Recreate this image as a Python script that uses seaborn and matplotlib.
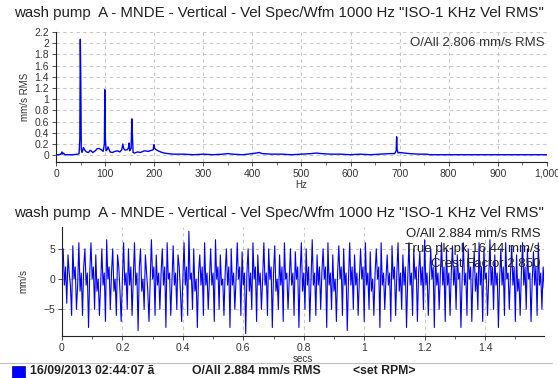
import numpy as np
import pandas as pd
import seaborn as sns
import matplotlib.pyplot as plt
from matplotlib.patches import Rectangle
from matplotlib.ticker import AutoMinorLocator

title = 'wash pump  A - MNDE - Vertical - Vel Spec/Wfm 1000 Hz "ISO-1 KHz Vel RMS"'

# spectrum (Hz, mm/s RMS)
spec_hz = [0, 5, 10, 12, 13, 15, 18, 25, 35, 44, 47, 48.5, 49.5, 50.5, 51.5, 53,
           56, 58, 62, 66, 70, 75, 80, 84, 88, 92, 96, 98.5, 99.5, 100.5, 102,
           104, 106, 110, 115, 120, 125, 130, 134, 136, 138, 141, 145, 148, 149,
           150, 151, 153, 154.5, 155.5, 157, 160, 166, 172, 180, 188, 195, 198,
           199.5, 201, 204, 208, 213, 220, 228, 240, 260, 280, 300, 320, 340, 350,
           360, 380, 400, 408, 414, 420, 440, 460, 480, 500, 520, 530, 540, 560,
           580, 600, 620, 640, 660, 680, 690, 693, 694, 695, 697, 700, 710, 720,
           740, 755, 762, 780, 850, 920, 1000]
spec_amp = [0.01, 0.01, 0.02, 0.06, 0.02, 0.04, 0.01, 0.01, 0.01, 0.02, 0.03, 0.3, 2.07, 1.3, 0.1, 0.05,
            0.14, 0.1, 0.06, 0.05, 0.09, 0.05, 0.08, 0.12, 0.12, 0.1, 0.07, 0.2, 1.17, 0.3, 0.08,
            0.1, 0.15, 0.06, 0.05, 0.07, 0.08, 0.06, 0.1, 0.2, 0.12, 0.09, 0.1, 0.14, 0.22,
            0.08, 0.1, 0.12, 0.65, 0.4, 0.05, 0.04, 0.06, 0.05, 0.08, 0.07, 0.09, 0.1,
            0.19, 0.12, 0.1, 0.08, 0.06, 0.04, 0.03, 0.02, 0.02, 0.01, 0.02, 0.01, 0.02, 0.03,
            0.02, 0.01, 0.03, 0.04, 0.05, 0.03, 0.02, 0.02, 0.01, 0.02, 0.03, 0.04, 0.03, 0.02,
            0.02, 0.01, 0.02, 0.01, 0.02, 0.03, 0.03, 0.08, 0.33, 0.1, 0.04, 0.05, 0.04, 0.03,
            0.02, 0.02, 0.01, 0.01, 0.01, 0.01, 0.01]

# waveform, 4 ms steps (mm/s)
wave_step = 0.004
wave_vals = [
    3, 5, -1, 2, -4, 4, 1, -1, -6, 5.5, 0, 2, -5, -1, 6, -2, 1, -6, 2, 5,
    -1, 1, -8, 1, 6, 0, 2, -5, 4, -2, 0, -6, -1, 5, -1, 1, -7, 6.5, 0, 2,
    -5, 1, 5, -2, 0, -6, 4, 2, -2, -7, 0, 6, -1, 1, -5, 5, -1, 2, -6, 0,
    6, -1, 1, -8.5, 2, 5, -2, 0, -5, 4, 1, -2, -7, 0, 6.5, 0, 2, -6, 4, -1,
    1, -5, 1, 5, -1, 2, -8, 6, 0, 1, -6, 0, 5.5, -1, 1, -5, 4, 2, -2, -7,
    0, 6, -1, 2, -6, 7.9, 0, 1, -5, 5, -2, 0, -8, 1, 4, -1, 2, -6, 6, -1,
    1, -5, 0, 5, -1, 1, -7, 6.5, 0, 2, -5, 4, -1, 0, -6, 1, 5, -1, 2, -8,
    5, -1, 1, -5, 0, 6, 0, 2, -6, 4.5, -1, 1, -9, 1, 5, -2, 1, -5, 6, 0,
    2, -7, 4, -1, 1, -5, 0, 6, -1, 1, -6, 5, 0, 2, -8, 1, 5.5, -2, 0, -5,
    4, -1, 2, -7, 6, 0, 1, -5, 0, 5, -1, 1, -6, 4.5, 0, 2, -8, 1, 6, -2,
    1, -5, 5, -1, 2, -7, 0, 6.5, -1, 1, -6, 4, -1, 2, -5, 1, 5, 0, 2, -8,
    6, -1, 1, -5, 4, -2, 0, -7, 1, 5.5, 0, 2, -6, 5, -1, 1, -8.5, 0, 6, -1,
    2, -5, 4, -1, 1, -6, 0, 5, 0, 2, -7, 6, -1, 1, -5, 4.5, -2, 0, -6, 1,
    5, 0, 2, -8, 6, -1, 1, -5, 0, 4, -1, 1, -7, 5.5, 0, 2, -6, 1, 6, -2,
    1, -5, 4, -1, 2, -8, 0, 6, -1, 1, -6, 5, 0, 2, -7, 1, 4.5, -1, 2, -5,
    6.5, -1, 1, -6, 0, 5, 0, 2, -8, 4, -1, 1, -5, 1, 6, -1, 2, -7, 5, -1,
    1, -6, 1, 5.5, -1, 2, -5, 4, 0, 1, -8, 0, 6, -1, 1, -6, 5, 0, 2, -7,
    1, 4.5, -2, 1, -5, 6, -1, 2, -7, 5, 0, 1, -6, 0, 6.5, -1, 2, -5, 4, -1,
    1, -8, 0, 5, -1, 2, -6, 6, 0, 1, -5, 1, 5.5, -1, 2, -7, 4, -2, 0, -6,
    1, 6, -1, 2, -5, 5, 0, 1, -7, 0, 4.5, -1, 2, -6, 6, -1, 1, -5, 2, -1.5,
]

spec_df = pd.DataFrame({"Hz": spec_hz, "amp": spec_amp})
wave_df = pd.DataFrame({"secs": np.arange(len(wave_vals)) * wave_step, "vel": wave_vals})

sns.set_style("white")
plt.rcParams['font.family'] = ['Liberation Sans', 'DejaVu Sans']

fig = plt.figure(figsize=(5.58, 3.78), dpi=100)
txt = "#333333"
grid_kw = dict(color="#c8c8c8", linestyle=(0, (3, 3)), linewidth=0.8)

# ---- spectrum
ax1 = fig.add_axes([0.1004, 0.5714, 0.8796, 0.3439])
sns.lineplot(data=spec_df, x="Hz", y="amp", ax=ax1, color="#0000ff", linewidth=1.0)
ax1.set_xlim(0, 1000)
ax1.set_ylim(-0.12, 2.2)
ax1.set_xticks(range(0, 1001, 100))
ax1.set_xticklabels([str(v) for v in range(0, 1000, 100)] + ["1,000"])
ax1.set_yticks(np.arange(0, 2.21, 0.2))
ax1.set_yticklabels(["0", "0.2", "0.4", "0.6", "0.8", "1", "1.2", "1.4", "1.6", "1.8", "2", "2.2"])
ax1.set_xlabel("Hz", fontsize=7, color=txt, labelpad=1)
ax1.set_ylabel("mm/s RMS", fontsize=7, color=txt, labelpad=3)
ax1.grid(True, **grid_kw)
ax1.text(0.995, 0.915, "O/All 2.806 mm/s RMS", transform=ax1.transAxes,
         ha="right", va="center", fontsize=9.5, color=txt)
fig.text(0.5, 0.965, title, ha="center", va="center", fontsize=10.8, color="#222222")

# ---- waveform
ax2 = fig.add_axes([0.111, 0.1111, 0.864, 0.2884])
sns.lineplot(data=wave_df, x="secs", y="vel", ax=ax2, color="#0000ff", linewidth=0.8)
ax2.set_xlim(0, 1.595)
ax2.set_ylim(-9.4, 8.6)
ax2.set_xticks([0, 0.2, 0.4, 0.6, 0.8, 1, 1.2, 1.4])
ax2.set_xticklabels(["0", "0.2", "0.4", "0.6", "0.8", "1", "1.2", "1.4"])
ax2.set_yticks([-5, 0, 5])
ax2.set_xlabel("secs", fontsize=7, color=txt, labelpad=1)
ax2.set_ylabel("mm/s", fontsize=7, color=txt, labelpad=11)
ax2.grid(True, **grid_kw)
for i, s in enumerate(["O/All 2.884 mm/s RMS", "True pk-pk 16.44 mm/s", "Crest Factor 2.850"]):
    ax2.text(0.992, 0.94 - i * 0.14, s, transform=ax2.transAxes,
             ha="right", va="center", fontsize=9.5, color="#222222")
fig.text(0.5, 0.437, title, ha="center", va="center", fontsize=10.8, color="#222222")

for ax in (ax1, ax2):
    sns.despine(ax=ax)
    ax.spines["left"].set_color("#222222")
    ax.spines["bottom"].set_color("#222222")
    ax.xaxis.set_minor_locator(AutoMinorLocator(2))
    ax.tick_params(axis="both", labelsize=7.5, colors=txt, length=3, width=0.6,
                   pad=2, direction="out", left=True, bottom=True)
    ax.tick_params(axis="x", which="minor", length=2, width=0.5, colors=txt, bottom=True)
    ax.set_axisbelow(True)

# ---- footer
fig.add_artist(plt.Line2D([0.0, 0.99], [0.04, 0.04], transform=fig.transFigure,
                          color="#c0c0c0", linewidth=0.8))
fig.add_artist(Rectangle((12 / 558, 0.0), 13 / 558, 12 / 378, transform=fig.transFigure,
                         facecolor="#0000ff", edgecolor="#000080", linewidth=0.5))
fig.text(30 / 558, 0.018, "16/09/2013 02:44:07 ã", fontsize=8.8, fontweight="bold",
         color="#222222", va="center")
fig.text(192 / 558, 0.018, "O/All 2.884 mm/s RMS", fontsize=8.8, fontweight="bold",
         color="#222222", va="center")
fig.text(353 / 558, 0.018, "<set RPM>", fontsize=8.8, fontweight="bold",
         color="#222222", va="center")

fig.savefig("out.png", dpi=100)
